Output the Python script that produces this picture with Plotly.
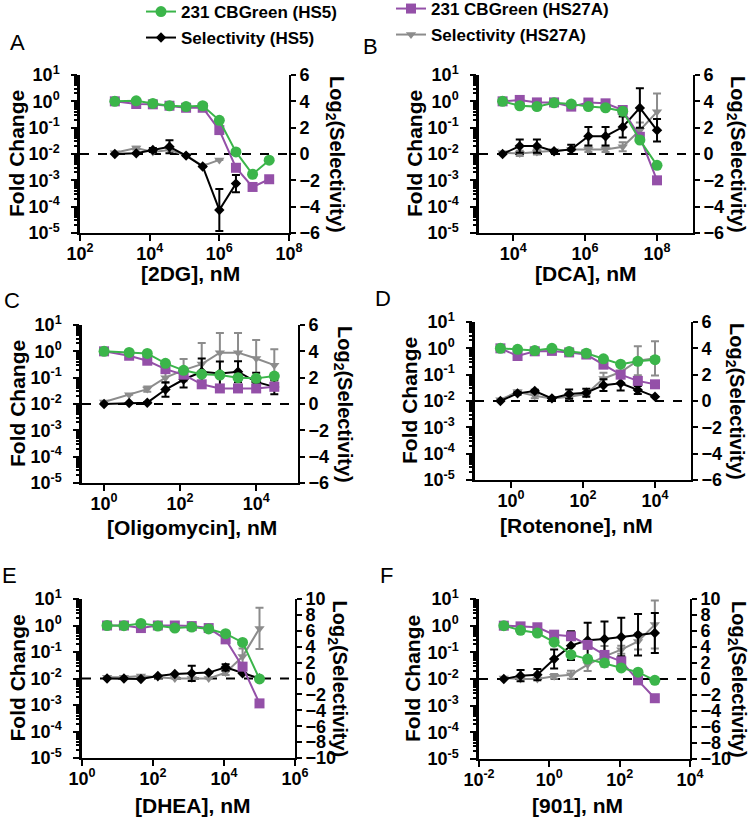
import plotly.graph_objects as go

W, H = 750, 822

# ---------------- data ----------------
# Panel A: 2DG
x_A = [1e3, 4115, 12346, 37037, 111111, 333333, 1e6, 3e6, 9e6, 2.7e7]
green_A = [1.0, 1.05, 0.83, 0.68, 0.63, 0.68, 0.19, 0.012, 0.0017, 0.0058]
purple_A = [1.0, 0.79, 0.77, 0.68, 0.57, 0.57, 0.081, 0.003, 0.00056, 0.0011]
black_A = [0, 0.05, 0.3, 0.55, -0.12, -0.95, -4.25, -2.25]
black_A_err = [0, 0, 0.15, 0.5, 0, 0, 1.6, 0.65]
gray_A = [0.1, 0.45, 0.15, 0.3, -0.1, -0.9, -0.45]
gray_A_err = [0, 0.1, 0, 0, 0, 0, 0]

# Panel B: DCA
x_B = [5081, 15242, 45725, 137174, 411523, 1234568, 3703704, 11111111, 33333333, 1e8]
green_B = [1.0, 0.68, 0.63, 0.88, 0.79, 0.63, 0.57, 0.42, 0.034, 0.0037]
purple_B = [1.0, 1.13, 0.91, 0.91, 0.63, 0.9, 0.84, 0.47, 0.045, 0.001]
black_B = [0, 0.6, 0.6, 0.21, 0.35, 1.35, 1.35, 2.05, 3.5, 1.8]
black_B_err = [0, 0.5, 0.5, 0.1, 0.35, 0.7, 0.7, 0.8, 1.5, 0.85]
gray_B = [0.1, 0.04, 0.16, 0.25, 0.35, 0.35, 0.35, 0.55, 1.8, 3.2]
gray_B_err = [0, 0.2, 0.2, 0, 0.1, 0.2, 0.2, 0.35, 0.6, 1.4]

# Panel C: Oligomycin
x_C = [1, 4.57, 13.7, 41.2, 123.5, 370, 1111, 3333, 10000, 30000]
green_C = [1.0, 0.91, 0.83, 0.35, 0.19, 0.135, 0.125, 0.10, 0.094, 0.115]
purple_C = [1.0, 0.68, 0.44, 0.21, 0.13, 0.056, 0.039, 0.039, 0.039, 0.045]
black_C = [0, 0.08, 0.1, 1.1, 1.86, 2.45, 2.32, 2.45, 1.68, 1.3]
black_C_err = [0, 0, 0.05, 0.55, 0.6, 1.0, 0.9, 0.8, 0.7, 0.55]
gray_C = [0.15, 0.7, 1.13, 2.0, 2.57, 3.03, 3.9, 3.9, 3.46, 2.95]
gray_C_err = [0, 0, 0.2, 0.4, 0.85, 1.6, 1.5, 1.5, 1.4, 1.2]

# Panel D: Rotenone
x_D = [0.508, 1.52, 4.57, 13.7, 41.2, 123.5, 370, 1111, 3333, 10000]
green_D = [1.0, 0.92, 0.82, 1.0, 0.75, 0.65, 0.4, 0.25, 0.32, 0.37]
purple_D = [1.0, 0.51, 0.77, 0.8, 0.7, 0.58, 0.24, 0.1, 0.058, 0.043]
black_D = [0, 0.58, 0.76, 0.2, 0.53, 0.63, 1.2, 1.34, 0.84, 0.33]
black_D_err = [0, 0.1, 0.1, 0.05, 0.35, 0.3, 0.45, 0.55, 0.3, 0]
gray_D = [0.1, 0.7, 0.4, 0.2, 0.33, 0.53, 1.7, 2.2, 3.06, 3.24]
gray_D_err = [0, 0.1, 0.2, 0, 0.1, 0.1, 0.45, 0.4, 1.1, 1.3]

# Panel E: DHEA
x_E = [5.08, 15.2, 45.7, 137, 412, 1235, 3704, 11111, 33333, 100000]
green_E = [1.0, 0.98, 1.2, 0.95, 0.8, 0.87, 0.74, 0.49, 0.23, 0.0096]
purple_E = [1.0, 1.0, 0.8, 1.0, 1.0, 0.95, 0.8, 0.3, 0.028, 0.00115]
black_E = [0, 0, -0.06, 0.32, 0.57, 0.65, 0.74, 1.4, 0.65, 0]
black_E_err = [0, 0, 0, 0, 0, 0.95, 0, 0.4, 0, 0]
gray_E = [0.15, 0.15, 0.32, 0.15, 0, 0, 0, 0.74, 2.76, 6.3]
gray_E_err = [0, 0, 0, 0, 0, 0, 0, 0.3, 1.0, 2.6]

# Panel F: 901
x_F = [0.0508, 0.152, 0.457, 1.37, 4.12, 12.3, 37.0, 111, 333, 1000]
green_F = [1.0, 0.67, 0.53, 0.24, 0.082, 0.056, 0.04, 0.026, 0.018, 0.0089]
purple_F = [1.0, 0.94, 0.87, 0.46, 0.4, 0.19, 0.08, 0.046, 0.0089, 0.0019]
black_F = [0, 0.42, 0.54, 2.5, 4.17, 4.83, 5.0, 5.25, 5.54, 5.75]
black_F_err = [0, 0.7, 0.7, 1.2, 1.8, 2.2, 2.2, 2.4, 2.6, 2.5]
gray_F = [0.12, 0, 0, 0.33, 0.54, 1.8, 2.83, 3.67, 4.7, 6.8]
gray_F_err = [0, 0, 0, 0.3, 0.5, 0.8, 1.3, 0.5, 1.0, 3.0]

series_names = ["231 CBGreen (HS5)", "231 CBGreen (HS27A)", "Selectivity (HS5)", "Selectivity (HS27A)"]
x_titles = ["[2DG], nM", "[DCA], nM", "[Oligomycin], nM", "[Rotenone], nM", "[DHEA], nM", "[901], nM"]
panel_letters = ["A", "B", "C", "D", "E", "F"]
fold_tick_exps = [-5, -4, -3, -2, -1, 0, 1]
minor_multipliers = [2, 3, 4, 5, 6, 7, 8, 9]

data = [
    (x_A, green_A, purple_A, black_A, black_A_err, gray_A, gray_A_err),
    (x_B, green_B, purple_B, black_B, black_B_err, gray_B, gray_B_err),
    (x_C, green_C, purple_C, black_C, black_C_err, gray_C, gray_C_err),
    (x_D, green_D, purple_D, black_D, black_D_err, gray_D, gray_D_err),
    (x_E, green_E, purple_E, black_E, black_E_err, gray_E, gray_E_err),
    (x_F, green_F, purple_F, black_F, black_F_err, gray_F, gray_F_err),
]

# ---------------- layout config ----------------
# plot boxes in pixels: (left, right, top, bottom)
boxes = [(80, 289, 75, 233), (479, 693, 75, 233),
         (82, 298, 325, 483), (475, 691, 322, 480),
         (82, 295, 599, 758), (479, 690, 599, 759)]
x_ranges = [[2, 8], [3.05, 9], [-0.58, 5.1], [-1, 5], [0, 6], [-2, 4]]
x_tick_exps = [[2, 4, 6, 8], [4, 6, 8], [0, 2, 4], [0, 2, 4], [0, 2, 4, 6], [-2, 0, 2, 4]]
y2_lims = [6, 6, 6, 6, 10, 10]
left_title_x = [16, 414, 17, 409, 17, 412]
right_title_x = [336, 737, 344, 736, 338, 738]
x_title_pos = [(190, 273), (585, 273), (192, 527), (576, 525), (192, 805), (577, 805)]
letter_pos = [(17, 43), (370, 46), (12, 300), (383, 298), (9, 575), (386, 575)]

GREEN = "#3BB54A"
PURPLE = "#9450A8"
BLACK = "#000000"
GRAY = "#8C8C8C"
FONT = "Liberation Sans, Arial, sans-serif"

fig = go.Figure()

def px_x(v):
    return v / W

def px_y(v):
    return 1 - v / H

shapes = []
annotations = []
layout = {}
minor_vals = [k * 10.0 ** e for e in fold_tick_exps[:-1] for k in minor_multipliers]

for i, (box, d) in enumerate(zip(boxes, data)):
    n = i + 1
    xname = "x" if n == 1 else f"x{n}"
    base_y = 3 * n - 2      # right, linear (selectivity)
    over_y = 3 * n - 1      # left, log (fold change), major ticks
    minor_y = 3 * n         # left, log (fold change), same range, minor ticks
    yb = "y" if base_y == 1 else f"y{base_y}"
    yo = f"y{over_y}"
    ym = f"y{minor_y}"
    xs, green, purple, black, black_err, gray, gray_err = d
    first = (n == 1)

    # selectivity traces (base axis, drawn first)
    fig.add_trace(go.Scatter(
        x=xs[:len(gray)], y=gray, mode="lines+markers", name=series_names[3],
        line=dict(color=GRAY, width=2),
        marker=dict(symbol="triangle-down", size=9, color=GRAY),
        error_y=dict(type="data", array=gray_err, color=GRAY, thickness=2, width=4),
        xaxis=xname, yaxis=yb, showlegend=first, legend="legend4"))
    fig.add_trace(go.Scatter(
        x=xs[:len(black)], y=black, mode="lines+markers", name=series_names[2],
        line=dict(color=BLACK, width=2),
        marker=dict(symbol="diamond", size=8, color=BLACK),
        error_y=dict(type="data", array=black_err, color=BLACK, thickness=2, width=4),
        xaxis=xname, yaxis=yb, showlegend=first, legend="legend2"))
    # fold change traces (log axes with identical ranges)
    fig.add_trace(go.Scatter(
        x=xs, y=purple, mode="lines+markers", name=series_names[1],
        line=dict(color=PURPLE, width=2),
        marker=dict(symbol="square", size=10, color=PURPLE),
        xaxis=xname, yaxis=yo, showlegend=first, legend="legend3"))
    fig.add_trace(go.Scatter(
        x=xs, y=green, mode="lines+markers", name=series_names[0],
        line=dict(color=GREEN, width=2),
        marker=dict(symbol="circle", size=11, color=GREEN),
        xaxis=xname, yaxis=ym, showlegend=first, legend="legend"))

    l, r, t, b = box
    xdom = [px_x(l), px_x(r)]
    ydom = [px_y(b), px_y(t)]
    tickfont = dict(family=FONT, size=18, color="black", weight="bold")
    lim = y2_lims[i]

    layout["xaxis" if n == 1 else f"xaxis{n}"] = dict(
        type="log", domain=xdom, range=x_ranges[i], anchor=yb,
        tickmode="array",
        tickvals=[10.0 ** e for e in x_tick_exps[i]],
        ticktext=[f"10<sup>{e}</sup>" for e in x_tick_exps[i]],
        ticks="outside", ticklen=6, tickwidth=2, tickcolor="black",
        ticklabelstandoff=-3,
        showline=True, linecolor="black", linewidth=2,
        showgrid=False, zeroline=False, tickfont=tickfont, automargin=False)
    layout["yaxis" if base_y == 1 else f"yaxis{base_y}"] = dict(
        domain=ydom, range=[-lim, lim], anchor=xname, side="right",
        tickmode="array", tickvals=list(range(-lim, lim + 1, 2)),
        ticks="outside", ticklen=5, tickwidth=2, tickcolor="black",
        showline=True, linecolor="black", linewidth=2,
        showgrid=False, zeroline=False, tickfont=tickfont, automargin=False)
    layout[f"yaxis{over_y}"] = dict(
        type="log", range=[-5, 1], overlaying=yb, anchor=xname, side="left",
        tickmode="array", tickvals=[10.0 ** e for e in fold_tick_exps],
        ticktext=[f"10<sup>{e}</sup>" for e in fold_tick_exps],
        ticks="outside", ticklen=6, tickwidth=2, tickcolor="black",
        ticklabelstandoff=8,
        showline=True, linecolor="black", linewidth=2.5,
        showgrid=False, zeroline=False, tickfont=tickfont, automargin=False)
    layout[f"yaxis{minor_y}"] = dict(
        type="log", range=[-5, 1], overlaying=yb, anchor=xname, side="left",
        tickmode="array", tickvals=minor_vals,
        ticktext=["" for _ in minor_vals],
        ticks="outside", ticklen=5, tickwidth=1.5, tickcolor="black",
        showline=False, showgrid=False, zeroline=False, automargin=False)

    # dashed zero line of the selectivity axis
    shapes.append(dict(type="line", xref=f"{xname} domain", yref=yb,
                       x0=0, x1=1, y0=0, y1=0, layer="below",
                       line=dict(color="black", width=2, dash="dash")))

    cy = (t + b) / 2
    annotations.append(dict(text="Fold Change", x=px_x(left_title_x[i]), y=px_y(cy),
                            xref="paper", yref="paper", textangle=-90, showarrow=False,
                            xanchor="center", yanchor="middle",
                            font=dict(family=FONT, size=21, color="black", weight="bold")))
    annotations.append(dict(text="Log<sub>2</sub>(Selectivity)", x=px_x(right_title_x[i]), y=px_y(cy),
                            xref="paper", yref="paper", textangle=90, showarrow=False,
                            xanchor="center", yanchor="middle",
                            font=dict(family=FONT, size=20, color="black", weight="bold")))
    tx, ty = x_title_pos[i]
    annotations.append(dict(text=x_titles[i], x=px_x(tx), y=px_y(ty),
                            xref="paper", yref="paper", showarrow=False,
                            xanchor="center", yanchor="middle",
                            font=dict(family=FONT, size=21, color="black", weight="bold")))
    lx, ly = letter_pos[i]
    annotations.append(dict(text=panel_letters[i], x=px_x(lx), y=px_y(ly),
                            xref="paper", yref="paper", showarrow=False,
                            xanchor="center", yanchor="middle",
                            font=dict(family=FONT, size=22, color="black")))

legend_font = dict(family=FONT, size=17, color="black", weight="bold")
leg_common = dict(xanchor="left", yanchor="middle", bgcolor="rgba(0,0,0,0)",
                  borderwidth=0, font=legend_font, itemwidth=30)
layout["legend"] = dict(x=px_x(141), y=px_y(12), **leg_common)
layout["legend2"] = dict(x=px_x(141), y=px_y(38), **leg_common)
layout["legend3"] = dict(x=px_x(391), y=px_y(9), **leg_common)
layout["legend4"] = dict(x=px_x(391), y=px_y(35), **leg_common)

fig.update_layout(
    width=W, height=H, autosize=False,
    margin=dict(l=0, r=0, t=0, b=0, autoexpand=False),
    paper_bgcolor="white", plot_bgcolor="rgba(0,0,0,0)",
    shapes=shapes, annotations=annotations,
    font=dict(family=FONT, color="black"),
    **layout)

fig.write_html("out.html", post_script="document.body.style.margin='0';",
               config={"displayModeBar": False})
